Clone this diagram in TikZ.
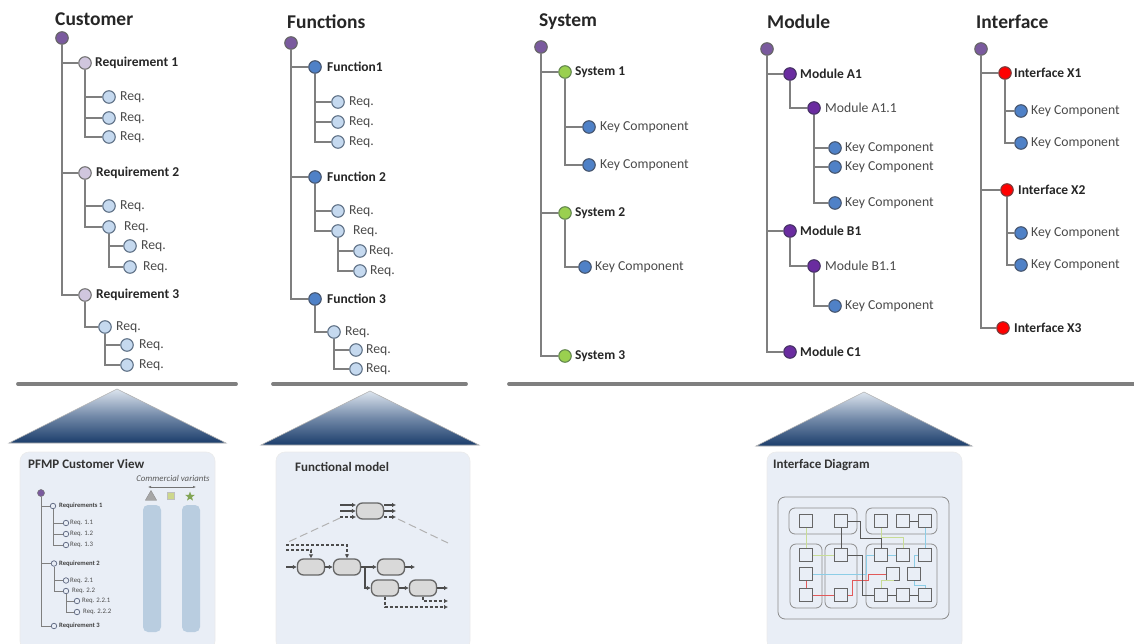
\documentclass[tikz,border=0pt]{standalone}
\usepackage{fontspec}
\setmainfont{Carlito}
\usetikzlibrary{arrows.meta,shapes.geometric}
\definecolor{edgeg}{HTML}{7F7F7F}
\definecolor{panelc}{HTML}{E9EEF6}
\definecolor{navy}{HTML}{1B3D6B}
\definecolor{pyrtop}{HTML}{DCE4EE}
\definecolor{pyrmid}{HTML}{7289A8}
\definecolor{txtg}{HTML}{4A4A4A}
\definecolor{cRoot}{HTML}{7A5A9E}
\definecolor{cReqA}{HTML}{D0C6DE}
\definecolor{eReqB}{HTML}{5F7186}
\definecolor{cReqB}{HTML}{C5D9EF}
\definecolor{eFunc}{HTML}{46556E}
\definecolor{cFunc}{HTML}{4F81C7}
\definecolor{eSys}{HTML}{648750}
\definecolor{cSys}{HTML}{9AD04F}
\definecolor{eMod}{HTML}{463264}
\definecolor{cMod}{HTML}{6A2CA0}
\definecolor{eIf}{HTML}{783C3C}
\definecolor{eMini}{HTML}{5A647D}
\definecolor{cVar}{HTML}{B9CDE0}
\definecolor{cSq}{HTML}{CDD78C}
\definecolor{cStar}{HTML}{82A555}
\definecolor{wGreen}{HTML}{C8DC96}
\definecolor{wBlue}{HTML}{8CCDE6}
\definecolor{wRed}{HTML}{E15A5A}
\tikzset{
 dot/.style={circle,draw=#1,line width=1.1pt,minimum size=12.5pt,inner sep=0pt},
 rootn/.style={dot=black!60,fill=cRoot},
 reqA/.style={dot=black!55,fill=cReqA},
 reqB/.style={dot=eReqB,fill=cReqB},
 funcn/.style={dot=eFunc,fill=cFunc},
 sysn/.style={dot=eSys,fill=cSys},
 modn/.style={dot=eMod,fill=cMod},
 ifn/.style={dot=eIf,fill=red},
 title/.style={anchor=west,inner sep=0pt,font=\fontsize{19.5}{21}\selectfont\bfseries,text=black!85},
 ttb/.style={anchor=west,inner sep=0pt,font=\fontsize{13.5}{15}\selectfont\bfseries,text=black!85},
 ttn/.style={anchor=west,inner sep=0pt,font=\fontsize{13.7}{15}\selectfont,text=txtg},
 conn/.style={draw=edgeg,line width=1.5pt},
 rulel/.style={draw=edgeg,line width=3.8pt,line cap=round},
 panel/.style={fill=panelc,draw=black!8,rounded corners=9pt,line width=.6pt},
 ptitle/.style={anchor=west,inner sep=0pt,font=\fontsize{13}{15}\selectfont\bfseries,text=black!80},
 mini/.style={circle,draw=eMini,line width=.7pt,minimum size=5.5pt,inner sep=0pt,fill=panelc},
 minit/.style={anchor=west,inner sep=0pt,font=\fontsize{6.8}{8}\selectfont,text=black!70},
 minib/.style={anchor=west,inner sep=0pt,font=\fontsize{6.6}{8}\selectfont\bfseries,text=black!75},
 mconn/.style={draw=edgeg,line width=.8pt},
 varcol/.style={fill=cVar,rounded corners=5pt,minimum width=18pt,minimum height=127pt,inner sep=0pt},
 blk/.style={draw=black!60,fill=black!15,line width=1.3pt,rounded corners=6pt,minimum width=27pt,minimum height=16pt,inner sep=0pt},
 flow/.style={draw=black!70,line width=1.1pt,-{Latex[length=4pt,width=4.5pt]}},
 dflow/.style={flow,densely dashed},
 zoomd/.style={draw=black!30,line width=1pt,dash pattern=on 8pt off 4pt},
 grp/.style={draw=black!45,fill=panelc,rounded corners=6pt,line width=.8pt},
 sq/.style={draw=black!60,fill=panelc,line width=1pt,minimum size=13pt,inner sep=0pt},
 wd/.style={draw=black!65,line width=.9pt},
 wg/.style={draw=wGreen,line width=.9pt},
 wb/.style={draw=wBlue,line width=.9pt},
 wr/.style={draw=wRed,line width=.9pt},
}
% name, x, y, style, text x, text style, text
\newcommand{\tn}[7]{\node[#4] (#1) at (#2,#3) {}; \node[#6] (#1t) at (#5,#3) {#7};}
\newcommand{\mt}[6]{\node[mini] (#1) at (#2,#3) {}; \node[#5] (#1t) at (#4,#3) {#6};}
\newcommand{\pyr}[4]{\shadedraw[draw=black!30,line width=.6pt,top color=pyrtop,bottom color=navy,middle color=pyrmid] (#1,#4) -- (#2,#4) -- (#3,#4-54) -- cycle;}
\begin{document}
\begin{tikzpicture}[x=1pt,y=-1pt]
\useasboundingbox (0,0) rectangle (1134,644);
% Customer
\node[title] (tc) at (55,19) {Customer};
\node[rootn] (c0) at (62,38) {};
\tn{c1}{85}{63}{reqA}{95}{ttb}{Requirement 1}
\tn{c11}{109}{97}{reqB}{120}{ttn}{Req.}
\tn{c12}{109}{118}{reqB}{120}{ttn}{Req.}
\tn{c13}{109}{137}{reqB}{120}{ttn}{Req.}
\tn{c2}{85}{173}{reqA}{96}{ttb}{Requirement 2}
\tn{c21}{109}{206}{reqB}{120}{ttn}{Req.}
\tn{c22}{109}{227}{reqB}{124}{ttn}{Req.}
\tn{c221}{130}{246}{reqB}{141}{ttn}{Req.}
\tn{c222}{130}{267}{reqB}{143}{ttn}{Req.}
\tn{c3}{85}{295}{reqA}{96}{ttb}{Requirement 3}
\tn{c31}{105}{327}{reqB}{116}{ttn}{Req.}
\tn{c311}{127}{345}{reqB}{139}{ttn}{Req.}
\tn{c312}{127}{365}{reqB}{139}{ttn}{Req.}
\foreach \a/\b in {c0/c1,c0/c2,c0/c3,c1/c11,c1/c12,c1/c13,c2/c21,c2/c22,c22/c221,c22/c222,c3/c31,c31/c311,c31/c312}
  \draw[conn] (\a) |- (\b);
% Functions
\node[title] (tf) at (287,22) {Functions};
\node[rootn] (f0) at (291,43) {};
\tn{f1}{315}{67}{funcn}{327}{ttb}{Function1}
\tn{f11}{338}{102}{reqB}{349}{ttn}{Req.}
\tn{f12}{338}{122}{reqB}{349}{ttn}{Req.}
\tn{f13}{338}{142}{reqB}{349}{ttn}{Req.}
\tn{f2}{315}{177}{funcn}{327}{ttb}{Function 2}
\tn{f21}{338}{211}{reqB}{349}{ttn}{Req.}
\tn{f22}{338}{231}{reqB}{353}{ttn}{Req.}
\tn{f221}{360}{251}{reqB}{369}{ttn}{Req.}
\tn{f222}{360}{271}{reqB}{370}{ttn}{Req.}
\tn{f3}{315}{299}{funcn}{327}{ttb}{Function 3}
\tn{f31}{334}{332}{reqB}{345}{ttn}{Req.}
\tn{f311}{356}{350}{reqB}{366}{ttn}{Req.}
\tn{f312}{356}{369}{reqB}{366}{ttn}{Req.}
\foreach \a/\b in {f0/f1,f0/f2,f0/f3,f1/f11,f1/f12,f1/f13,f2/f21,f2/f22,f22/f221,f22/f222,f3/f31,f31/f311,f31/f312}
  \draw[conn] (\a) |- (\b);
% System
\node[title] (ts) at (539,22) {System};
\node[rootn] (s0) at (541,47) {};
\tn{s1}{565}{72}{sysn}{575}{ttb}{System 1}
\tn{s11}{589}{127}{funcn}{600}{ttn}{Key Component}
\tn{s12}{589}{165}{funcn}{600}{ttn}{Key Component}
\tn{s2}{565}{213}{sysn}{575}{ttb}{System 2}
\tn{s21}{585}{267}{funcn}{595}{ttn}{Key Component}
\tn{s3}{565}{356}{sysn}{575}{ttb}{System 3}
\foreach \a/\b in {s0/s1,s0/s2,s0/s3,s1/s11,s1/s12,s2/s21}
  \draw[conn] (\a) |- (\b);
% Module
\node[title] (tm) at (767,22) {Module};
\node[rootn] (m0) at (767,49) {};
\tn{m1}{790}{74}{modn}{800}{ttb}{Module A1}
\tn{m11}{814}{108}{modn}{825}{ttn}{Module A1.1}
\tn{m111}{835}{148}{funcn}{845}{ttn}{Key Component}
\tn{m112}{835}{167}{funcn}{845}{ttn}{Key Component}
\tn{m113}{835}{203}{funcn}{845}{ttn}{Key Component}
\tn{m2}{790}{231}{modn}{800}{ttb}{Module B1}
\tn{m21}{814}{266}{modn}{825}{ttn}{Module B1.1}
\tn{m211}{835}{306}{funcn}{845}{ttn}{Key Component}
\tn{m3}{790}{352}{modn}{800}{ttb}{Module C1}
\foreach \a/\b in {m0/m1,m0/m2,m0/m3,m1/m11,m11/m111,m11/m112,m11/m113,m2/m21,m21/m211}
  \draw[conn] (\a) |- (\b);
% Interface
\node[title] (ti) at (976,22) {Interface};
\node[rootn] (i0) at (981,49) {};
\tn{i1}{1005}{73}{ifn}{1014}{ttb}{Interface X1}
\tn{i11}{1021}{111}{funcn}{1031}{ttn}{Key Component}
\tn{i12}{1021}{143}{funcn}{1031}{ttn}{Key Component}
\tn{i2}{1007}{190}{ifn}{1018}{ttb}{Interface X2}
\tn{i21}{1021}{233}{funcn}{1031}{ttn}{Key Component}
\tn{i22}{1021}{265}{funcn}{1031}{ttn}{Key Component}
\tn{i3}{1003}{328}{ifn}{1014}{ttb}{Interface X3}
\foreach \a/\b in {i0/i1,i0/i2,i0/i3,i1/i11,i1/i12,i2/i21,i2/i22}
  \draw[conn] (\a) |- (\b);
% Rules
\draw[rulel] (18,384) -- (236,384);
\draw[rulel] (273,384) -- (466,384);
\draw[rulel] (509,384) -- (1136,384);
% Pyramids
\pyr{9}{226}{117}{443}
\pyr{261}{479}{370}{445}
\pyr{756}{972}{864}{446}
% Panels
\draw[panel] (20,452) rectangle (215,650);
\draw[panel] (276,452) rectangle (470,650);
\draw[panel] (767,452) rectangle (962,650);
% PFMP panel
\node[ptitle] (p0) at (28,464) {PFMP Customer View};
\node[anchor=center,inner sep=0pt,font=\fontsize{8.8}{10}\selectfont\itshape,text=black!65] (pcv) at (173,478) {Commercial variants};
\coordinate (pa1) at (148,487); \coordinate (pa2) at (196,487);
\draw[draw=black!55,line width=.5pt,{Latex[length=3pt,width=2.5pt]}-{Latex[length=3pt,width=2.5pt]}] (pa1) -- (pa2);
\node[regular polygon,regular polygon sides=3,fill=black!35,draw=black!45,line width=.4pt,minimum size=13pt,inner sep=0pt] (ptr) at (151,497) {};
\node[fill=cSq,draw=black!25,line width=.4pt,minimum size=7pt,inner sep=0pt] (psq) at (171,496) {};
\node[star,star points=5,star point ratio=2.4,fill=cStar,minimum size=10pt,inner sep=0pt] (pst) at (190,496.5) {};
\node[varcol] (pc1) at (152,568.5) {};
\node[varcol] (pc2) at (191,568.5) {};
\node[circle,draw=black!55,fill=cRoot,line width=.5pt,minimum size=7pt,inner sep=0pt] (r0) at (41,493) {};
\mt{r1}{53}{506}{59}{minib}{Requirements 1}
\mt{r11}{66}{523}{70}{minit}{Req. 1.1}
\mt{r12}{66}{534}{70}{minit}{Req. 1.2}
\mt{r13}{66}{545}{70}{minit}{Req. 1.3}
\mt{r2}{54}{563.5}{59}{minib}{Requirement 2}
\mt{r21}{66}{580.5}{70}{minit}{Req. 2.1}
\mt{r22}{66}{591}{72}{minit}{Req. 2.2}
\mt{r221}{77}{601}{82}{minit}{Req. 2.2.1}
\mt{r222}{77}{612}{83}{minit}{Req. 2.2.2}
\mt{r3}{54}{626}{59}{minib}{Requirement 3}
\foreach \a/\b in {r0/r1,r0/r2,r0/r3,r1/r11,r1/r12,r1/r13,r2/r21,r2/r22,r22/r221,r22/r222}
  \draw[mconn] (\a) |- (\b);
% Functional model
\node[ptitle] (q0) at (295,467) {Functional model};
\node[blk] (b0) at (370,511) {};
\node[blk] (b1) at (311,567) {};
\node[blk] (b2) at (347,567) {};
\node[blk] (b3) at (391,567) {};
\node[blk] (b4) at (385,588) {};
\node[blk] (b5) at (423,588) {};
\coordinate (i1a) at (340,505); \coordinate (i1b) at (356,505);
\coordinate (i2a) at (340,511);
\coordinate (i3a) at (340,517); \coordinate (i3b) at (356,517);
\coordinate (o1a) at (384,505); \coordinate (o1b) at (396,505);
\coordinate (o2b) at (396,511);
\coordinate (o3a) at (384,517); \coordinate (o3b) at (396,517);
\draw[flow] (i1a) -- (i1b);
\draw[flow] (i2a) -- (b0);
\draw[dflow] (i3a) -- (i3b);
\draw[flow] (o1a) -- (o1b);
\draw[flow] (b0) -- (o2b);
\draw[dflow] (o3a) -- (o3b);
\coordinate (z1a) at (340,518); \coordinate (z1b) at (286,543);
\coordinate (z2a) at (398,519); \coordinate (z2b) at (448,543);
\draw[zoomd] (z1a) -- (z1b);
\draw[zoomd] (z2a) -- (z2b);
\coordinate (in1) at (286,567);
\coordinate (d1) at (286,545); \coordinate (d2) at (286,550);
\coordinate (out3) at (415,567); \coordinate (out5) at (448,588);
\coordinate (dout1) at (448,607); \coordinate (dout2) at (448,601);
\coordinate (br) at (365,567);
\draw[flow] (in1) -- (b1);
\draw[flow] (b1) -- (b2);
\draw[flow] (b2) -- (b3);
\draw[flow] (br) |- (b4);
\draw[flow] (b3) -- (out3);
\draw[flow] (b4) -- (b5);
\draw[flow] (b5) -- (out5);
\draw[dflow] (d1) -| (b2);
\draw[dflow] (d2) -| (b1);
\draw[dflow] (b4.south) |- (dout1);
\draw[dflow] (b5.south) |- (dout2);
% Interface diagram
\node[ptitle] (w0) at (773,465) {Interface Diagram};
\draw[grp,rounded corners=7pt] (778,497) rectangle (949,619);
\draw[grp] (789,508) rectangle (857,534);
\draw[grp] (866,508) rectangle (937,534);
\draw[grp] (790,544) rectangle (822,608);
\draw[grp] (825,544) rectangle (857,608);
\draw[grp] (866,544) rectangle (937,608);
% wires (behind the squares)
\foreach \n/\x/\y in {a/806/521,b/841/521,c/881/521,d/903/521,e/925/521,f/806/555,g/841/555,h/881/555,i/903/555,j/925/555,k/806/574,l/893/574,m/914/574,n/806/595,o/841/595,p/881/595,q/903/595,r/925/595}
  \node[sq] (\n) at (\x,\y) {};
\draw[wg] (a) -- (f);
\draw[wg] (f) -- (g);
\draw[wg] (c.south) -- ++(0,9) -| (i.north);
\draw[wg] (p.north) -- ++(0,-8) -| (l.south);
\draw[wb] (e) -- (j);
\draw[wb] (h) -- (i);
\draw[wb] (j.west) -- ++(-4,0) |- (m.north);
\draw[wb] (k.east) -- (866,574) |- (h.west);
\draw[wb] (m.south) -- ++(0,4) -| (r.north);
\draw[wr] (k) -- (n);
\draw[wr] (n) -- (o);
\draw[wr] (o.east) -- ++(4,0) |- (868,580) |- (l.west);
\draw[wd] (b) -- (g);
\draw[wd] (b.east) -- (860,521) |- (881,538) -- (h.north);
\draw[wd] (g.east) -- (862,555) |- (p.west);
\draw[wd] (p) -- (q);
\draw[wd] (q) -- (r);
\draw[wd] (d) -- (e);
\end{tikzpicture}
\end{document}
